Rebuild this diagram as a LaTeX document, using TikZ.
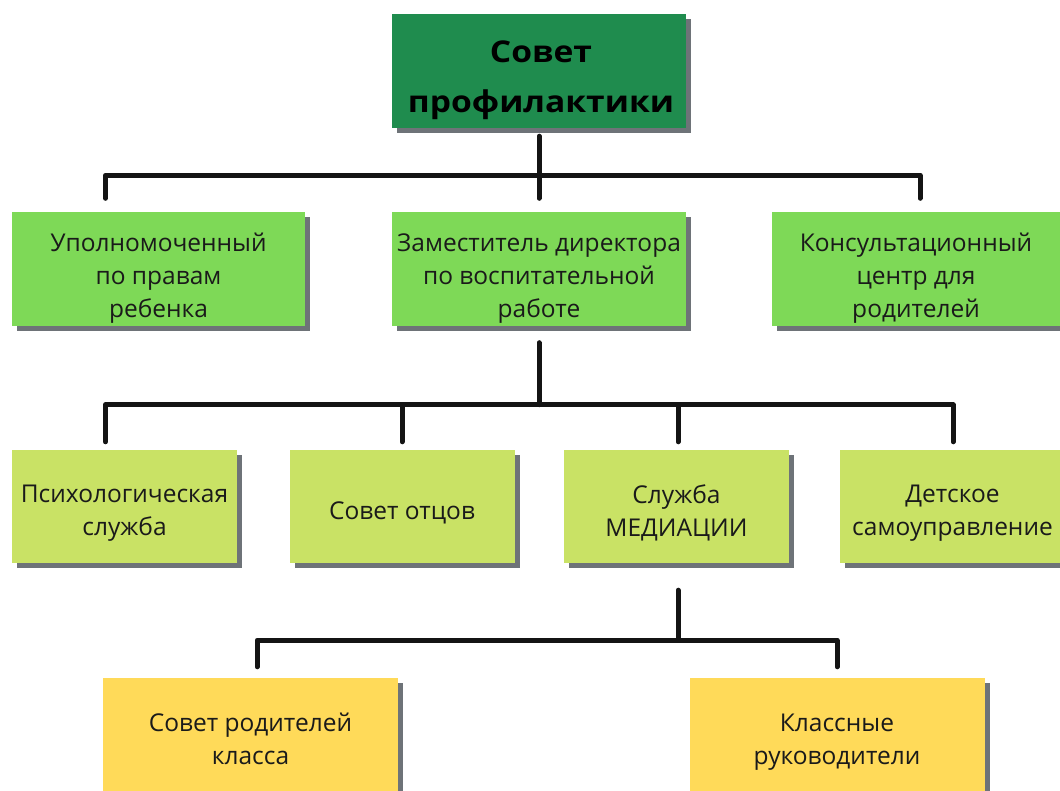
\documentclass[tikz,border=0pt]{standalone}
\usepackage{fontspec}
\setmainfont{Open Sans}
\newfontfamily\topfont[FakeStretch=1.12]{Open Sans}
\usetikzlibrary{calc,shadows}
\definecolor{cTop}{HTML}{1F8C4E}
\definecolor{cRowA}{HTML}{7ED957}
\definecolor{cRowB}{HTML}{C9E265}
\definecolor{cRowC}{HTML}{FFDA59}
\definecolor{cShadow}{HTML}{6E7378}
\definecolor{cText}{HTML}{1A1A1A}
\tikzset{
  basebox/.style={rectangle, inner sep=0pt, minimum height=114pt,
    drop shadow={shadow xshift=5pt, shadow yshift=-5pt, fill=cShadow, opacity=1}},
  topbox/.style={basebox, fill=cTop, minimum width=294pt},
  rowabox/.style={basebox, fill=cRowA},
  rowbbox/.style={basebox, fill=cRowB, minimum width=225pt, minimum height=113pt},
  rowcbox/.style={basebox, fill=cRowC, minimum width=295pt},
  boxtext/.style={inner sep=0pt, align=center, text=cText,
    font=\fontsize{24.5}{33}\selectfont},
  toptext/.style={inner sep=0pt, align=center, text=black,
    font=\topfont\fontsize{30}{50}\selectfont\bfseries},
  conn/.style={line width=5pt, line cap=round, line join=round, draw=black!92}
}
\begin{document}
\begin{tikzpicture}[x=1pt,y=-1pt]
\useasboundingbox (0,0) rectangle (1060,791);
\clip (0,0) rectangle (1060,791);
\fill[white] (0,0) rectangle (1060,791);

% level 1
\node[topbox] (top) at (539,71) {};
\node[toptext] (topT) at ($(top.center)+(2,9)$) {Совет\\профилактики};

% level 2
\node[rowabox, minimum width=293pt] (up) at (158.5,269.5) {};
\node[rowabox, minimum width=294pt] (zam) at (539,269.5) {};
\node[rowabox, minimum width=290pt] (kc) at (917,269.5) {};
\node[boxtext] (upT) at ($(up.center)+(0,9)$) {Уполномоченный\\по правам\\ребенка};
\node[boxtext] (zamT) at ($(zam.center)+(0,9)$) {Заместитель директора\\по воспитательной\\работе};
\node[boxtext] (kcT) at ($(kc.center)+(-1,9)$) {Консультационный\\центр для\\родителей};

% level 3
\node[rowbbox] (ps) at (124.5,506.5) {};
\node[rowbbox] (so) at (402,506.5) {};
\node[rowbbox] (me) at (676.5,506.5) {};
\node[rowbbox] (dt) at (952.5,506.5) {};
\node[boxtext] (psT) at ($(ps.center)+(0,6.5)$) {Психологическая\\служба};
\node[boxtext] (soT) at ($(so.center)+(0,6.5)$) {Совет отцов};
\node[boxtext] (meT) at ($(me.center)+(0,6)$) {Служба\\МЕДИАЦИИ};
\node[boxtext] (dtT) at ($(dt.center)+(0,7)$) {Детское\\самоуправление};

% level 4
\node[rowcbox] (rk) at (250.5,735) {};
\node[rowcbox] (kr) at (837,735) {};
\node[boxtext] (rkT) at ($(rk.center)+(0,3.5)$) {Совет родителей\\класса};
\node[boxtext] (krT) at ($(kr.center)+(0,7)$) {Классные\\руководители};

% connectors level 1 -> 2
\coordinate (j1) at ($(top.south)+(0,47)$);
\draw[conn] ($(top.south)+(0,8)$) -- ($(zam.north)+(0,-14)$);
\draw[conn] ($(up.north)+(-53,-14)$) |- (j1) -| ($(kc.north)+(3,-14)$);

% connectors level 2 -> 3
\coordinate (j2) at ($(zam.south)+(0,78)$);
\draw[conn] ($(zam.south)+(0,16)$) -- (j2);
\draw[conn] ($(ps.north)+(-19,-8)$) |- (j2) -| ($(dt.north)+(0.5,-8)$);
\draw[conn] ($(so.north)+(0,-8)$) -- ($(so.north)+(0,-45)$);
\draw[conn] ($(me.north)+(1.5,-8)$) -- ($(me.north)+(1.5,-45)$);

% connectors level 3 -> 4
\coordinate (j3) at ($(me.south)+(1.5,77)$);
\draw[conn] ($(me.south)+(1.5,27)$) -- (j3);
\draw[conn] ($(rk.north)+(6.5,-11)$) |- (j3) -| ($(kr.north)+(0,-11)$);
\end{tikzpicture}
\end{document}
